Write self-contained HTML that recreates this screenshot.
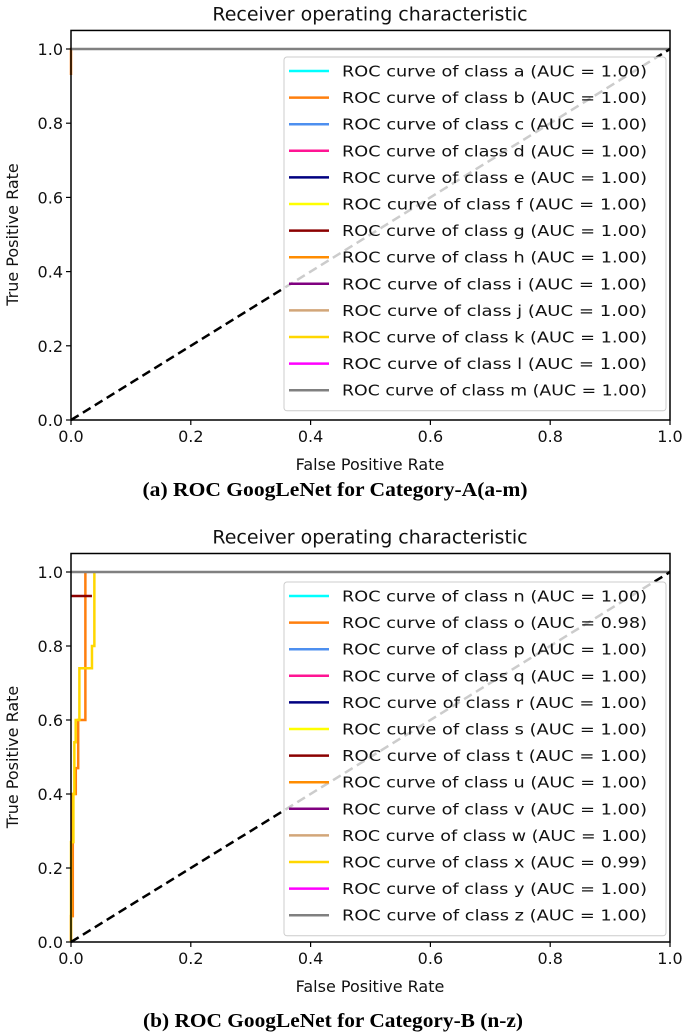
<!DOCTYPE html>
<html><head><meta charset="utf-8"><style>
body{margin:0;background:#fff;}
svg{display:block;font-family:"DejaVu Sans","Liberation Sans",sans-serif;}
</style></head><body>
<svg id="fig" width="685" height="1036" viewBox="0 0 685 1036" xmlns="http://www.w3.org/2000/svg"></svg>
<script>
const xTicks=[0,0.2,0.4,0.6,0.8,1.0];
const yTicks=[0,0.2,0.4,0.6,0.8,1.0];
const tickLabels=["0.0","0.2","0.4","0.6","0.8","1.0"];
const classesA=["a","b","c","d","e","f","g","h","i","j","k","l","m"];
const classesB=["n","o","p","q","r","s","t","u","v","w","x","y","z"];
const colors=["#00ffff","#ff7f0e","#4d8fef","#ff1493","#000080","#ffff00","#8b0000","#ff8c00","#800080","#d2a679","#ffd700","#ff00ff","#808080"];
const aucA=["1.00","1.00","1.00","1.00","1.00","1.00","1.00","1.00","1.00","1.00","1.00","1.00","1.00"];
const aucB=["1.00","0.98","1.00","1.00","1.00","1.00","1.00","1.00","1.00","1.00","0.99","1.00","1.00"];
const curveA_b_fpr=[0,0,0.001];
const curveA_b_tpr=[0.93,1,1];
const curveB_o_fpr=[0,0,0.003,0.003,0.008,0.008,0.012,0.012,0.024,0.024];
const curveB_o_tpr=[0,0.07,0.07,0.4,0.4,0.47,0.47,0.6,0.6,1.0];
const curveB_x_fpr=[0,0,0.004,0.004,0.0056,0.0056,0.0078,0.0078,0.0094,0.0094,0.014,0.014,0.035,0.035,0.039,0.039];
const curveB_x_tpr=[0,0.27,0.27,0.4,0.4,0.54,0.54,0.6,0.6,0.6,0.6,0.74,0.74,0.8,0.8,1.0];
const curveB_t_fpr=[0,0.035];
const curveB_t_tpr=[0.935,0.935];

const svg=document.getElementById('fig');
const NS="http://www.w3.org/2000/svg";
function mk(tag,attrs,parent){const e=document.createElementNS(NS,tag);for(const k in attrs)e.setAttribute(k,attrs[k]);(parent||svg).appendChild(e);return e;}

function drawChart(cfg){
  const g=mk('g',{});
  
  
  const L=71,R=670,y0=cfg.y0,y1=cfg.y1;
  const X=v=>L+v*(R-L);
  const Y=v=>y0-v*(y0-y1);
  const top=Y(1.05);
  const t=mk('text',{x:370,y:top-10,'text-anchor':'middle','font-size':19,fill:'#111'},g);
  t.textContent='Receiver operating characteristic';
  
  
  cfg.curves.forEach(c=>{
    const pts=c.f.map((f,i)=>X(f)+','+Y(c.t[i])).join(' ');
    const p=mk('polyline',{points:pts,fill:'none',stroke:colors[c.ci],'stroke-width':2.5},g);
    
    
  });
  const gl=mk('line',{x1:X(0),y1:Y(1),x2:X(1),y2:Y(1),stroke:'#808080','stroke-width':2.5},g);
  
  
  const d=mk('line',{x1:X(0),y1:Y(0),x2:X(1),y2:Y(1),stroke:'#000','stroke-width':2.5,'stroke-dasharray':'9,5'},g);
  
  
  const lg=mk('g',{},g);
  
  
  const lx=284,ly=cfg.legendTop,rowH=26.6;
  mk('rect',{x:lx,y:ly,width:382,height:rowH*13+8,rx:3,fill:'rgba(255,255,255,0.8)',stroke:'#ccc','stroke-width':1},lg);
  cfg.classes.forEach((c,i)=>{
    const cy=ly+14+i*rowH;
    const e=mk('g',{},lg);
    
    
    mk('line',{x1:289,y1:cy,x2:329,y2:cy,stroke:colors[i],'stroke-width':2.5},e);
    const tx=mk('text',{x:342,y:cy+5.5,'font-size':15.5,fill:'#111',textLength:305,lengthAdjust:'spacingAndGlyphs'},e);
    tx.textContent='ROC curve of class '+c+' (AUC = '+cfg.auc[i]+')';
  });
  const fr=mk('rect',{x:L,y:top,width:R-L,height:y0-top,fill:'none',stroke:'#000','stroke-width':1.5},g);
  
  
  xTicks.forEach((v,i)=>{
    mk('line',{x1:X(v),y1:y0,x2:X(v),y2:y0+5,stroke:'#000','stroke-width':1.2},g);
    const tl=mk('text',{x:X(v),y:y0+22,'text-anchor':'middle','font-size':16,fill:'#111'},g);
    tl.textContent=tickLabels[i];
    
    
  });
  yTicks.forEach((v,i)=>{
    mk('line',{x1:L-5,y1:Y(v),x2:L,y2:Y(v),stroke:'#000','stroke-width':1.2},g);
    const tl=mk('text',{x:L-8,y:Y(v)+6,'text-anchor':'end','font-size':16,fill:'#111'},g);
    tl.textContent=tickLabels[i];
    
    
  });
  const xl=mk('text',{x:370,y:y0+50,'text-anchor':'middle','font-size':16,fill:'#111'},g);
  xl.textContent='False Positive Rate';
  
  
  const my=(y0+Y(1))/2;
  const yl=mk('text',{x:18,y:my,'text-anchor':'middle','font-size':16,fill:'#111',transform:'rotate(-90 18 '+my+')'},g);
  yl.textContent='True Positive Rate';
  
  
  const cap=mk('text',{x:cfg.capX,y:cfg.capY,'text-anchor':'middle','font-size':20,'font-weight':'bold','font-family':'"Liberation Serif",serif',fill:'#000',textLength:cfg.capW,lengthAdjust:'spacingAndGlyphs'},g);
  cap.textContent=cfg.caption;
  
  
}
drawChart({name:'chart-category-a',y0:420,y1:49,legendTop:57,classes:classesA,auc:aucA,caption:'(a) ROC GoogLeNet for Category-A(a-m)',capX:335,capY:496,capW:385,
  curves:[{f:curveA_b_fpr,t:curveA_b_tpr,ci:1,label:'b'}]});
drawChart({name:'chart-category-b',y0:942,y1:572,legendTop:582,classes:classesB,auc:aucB,caption:'(b) ROC GoogLeNet for Category-B (n-z)',capX:333,capY:1027,capW:380,
  curves:[{f:curveB_o_fpr,t:curveB_o_tpr,ci:1,label:'o'},{f:curveB_x_fpr,t:curveB_x_tpr,ci:10,label:'x'},{f:curveB_t_fpr,t:curveB_t_tpr,ci:6,label:'t'}]});
</script>
</body></html>
